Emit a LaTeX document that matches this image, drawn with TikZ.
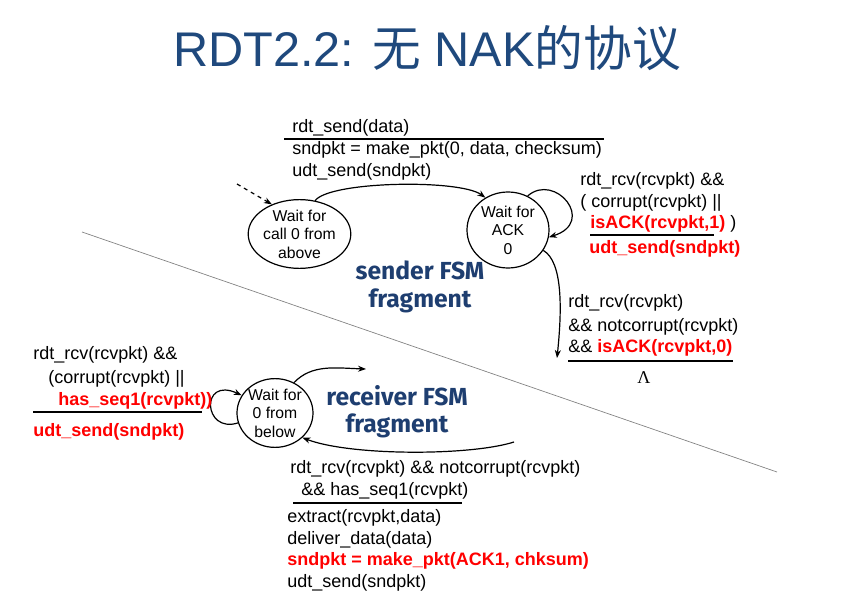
\documentclass[tikz,border=0pt]{standalone}
\usepackage{fontspec}
\setmainfont{Liberation Sans}
\newfontfamily\cjk{Noto Sans CJK SC}
\newfontfamily\fsmfont{Fira Sans}
\newfontfamily\serifL{Liberation Serif}
\usetikzlibrary{shapes.geometric,arrows.meta}
\definecolor{titleblue}{RGB}{31,73,125}
\definecolor{fsmblue}{RGB}{30,62,112}
\definecolor{redtxt}{RGB}{255,0,0}
\newcommand{\rb}[1]{{\color{redtxt}\bfseries #1}}
\begin{document}
\begin{tikzpicture}[x=0.75pt,y=-0.75pt,
  lbl/.style={anchor=base west,inner sep=0pt,font=\fontsize{13.5}{16}\selectfont},
  state/.style={draw,ellipse,line width=0.9pt,inner sep=0pt,align=center,
    font=\fontsize{11.8}{13.9}\selectfont},
  conn/.style={line width=0.9pt,-{Stealth[length=6pt,width=4.5pt]}},
  rule/.style={line width=1.5pt},
  fsm/.style={text=fsmblue,align=center,font=\fsmfont\bfseries\fontsize{18.5}{20.5}\selectfont}]
\useasboundingbox (0,0) rectangle (865,606);
\fill[white] (0,0) rectangle (865,606);

% title
\node[anchor=base,text=titleblue,inner sep=0pt,font=\fontsize{36.5}{42}\selectfont] (title) at (427,67) {RDT2.2: {\cjk 无} NAK{\cjk 的协议}};

% divider
\coordinate (d1) at (82,232);
\coordinate (d2) at (777,472);
\draw[gray,line width=0.5pt] (d1) -- (d2);

% states
\node[state,minimum width=59.25pt,minimum height=51pt] (S0) at (299.5,234) {Wait for\\call 0 from\\above};
\node[state,minimum width=61.5pt,minimum height=57pt] (S1) at (508,230) {Wait for\\ACK\\0};
\node[state,minimum width=57pt,minimum height=51pt] (R) at (275,413) {Wait for\\0 from\\below};

% FSM labels
\node[fsm] (sfsm) at (420,287) {sender FSM\\fragment};
\node[fsm] (rfsm) at (397,412) {receiver FSM\\fragment};

% sender connectors
\coordinate (dstart) at (237,184);
\draw[conn,dashed] (dstart) -- (S0.133);
\draw[conn] (S0.65) .. controls (330,181) and (460,179) .. (S1.125);
\draw[conn] (S1.60) .. controls (555,172) and (597,222) .. (S1.-10);
\coordinate (sout) at (557,358);
\draw[conn] (S1.-30) .. controls (563,262) and (562,310) .. (sout);

% receiver connectors
\draw[conn] (R.195) .. controls (203,434) and (200,376) .. (R.152);
\coordinate (rout) at (366,369);
\draw[conn] (R.58) .. controls (312,364) and (335,368) .. (rout);
\coordinate (rin) at (514,442);
\draw[conn] (rin) .. controls (470,456) and (350,456) .. (R.-42);

% top label
\node[lbl] (t1) at (292,133) {rdt\_send(data)};
\coordinate (t1a) at (284,139);
\coordinate (t1b) at (604,139);
\draw[rule] (t1a) -- (t1b);
\node[lbl] (t2) at (292,155) {sndpkt = make\_pkt(0, data, checksum)};
\node[lbl] (t3) at (292,177) {udt\_send(sndpkt)};

% right self-loop label
\node[lbl] (a1) at (580,186) {rdt\_rcv(rcvpkt) \&\&};
\node[lbl] (a2) at (580,208) {( corrupt(rcvpkt) ||};
\node[lbl] (a3) at (590,229) {\rb{isACK(rcvpkt,1)} )};
\coordinate (a3a) at (590,235);
\coordinate (a3b) at (714,235);
\draw[rule] (a3a) -- (a3b);
\node[lbl] (a4) at (589,254) {\rb{udt\_send(sndpkt)}};

% lower right label
\node[lbl] (b1) at (568,308) {rdt\_rcv(rcvpkt)};
\node[lbl] (b2) at (568,331) {\&\& notcorrupt(rcvpkt)};
\node[lbl] (b3) at (568,353) {\&\& \rb{isACK(rcvpkt,0)}};
\coordinate (b3a) at (568,361);
\coordinate (b3b) at (733,361);
\draw[rule] (b3a) -- (b3b);
\node[anchor=base,inner sep=0pt,font=\serifL\fontsize{13.5}{16}\selectfont] (lam) at (644,383) {Λ};

% receiver left label
\node[lbl] (c1) at (33,359) {rdt\_rcv(rcvpkt) \&\&};
\node[lbl] (c2) at (48,383) {(corrupt(rcvpkt) ||};
\node[lbl] (c3) at (58,405) {\rb{has\_seq1(rcvpkt))}};
\coordinate (c3a) at (33,412);
\coordinate (c3b) at (202,412);
\draw[rule] (c3a) -- (c3b);
\node[lbl] (c4) at (33,436) {\rb{udt\_send(sndpkt)}};

% receiver bottom label
\node[lbl] (e1) at (290,473) {rdt\_rcv(rcvpkt) \&\& notcorrupt(rcvpkt)};
\node[lbl] (e2) at (301,495) {\&\& has\_seq1(rcvpkt)};
\coordinate (e2a) at (293,503);
\coordinate (e2b) at (462,503);
\draw[rule] (e2a) -- (e2b);
\node[lbl] (e3) at (287,522) {extract(rcvpkt,data)};
\node[lbl] (e4) at (287,544) {deliver\_data(data)};
\node[lbl] (e5) at (287,565) {\rb{sndpkt = make\_pkt(ACK1, chksum)}};
\node[lbl] (e6) at (287,587) {udt\_send(sndpkt)};
\end{tikzpicture}
\end{document}
